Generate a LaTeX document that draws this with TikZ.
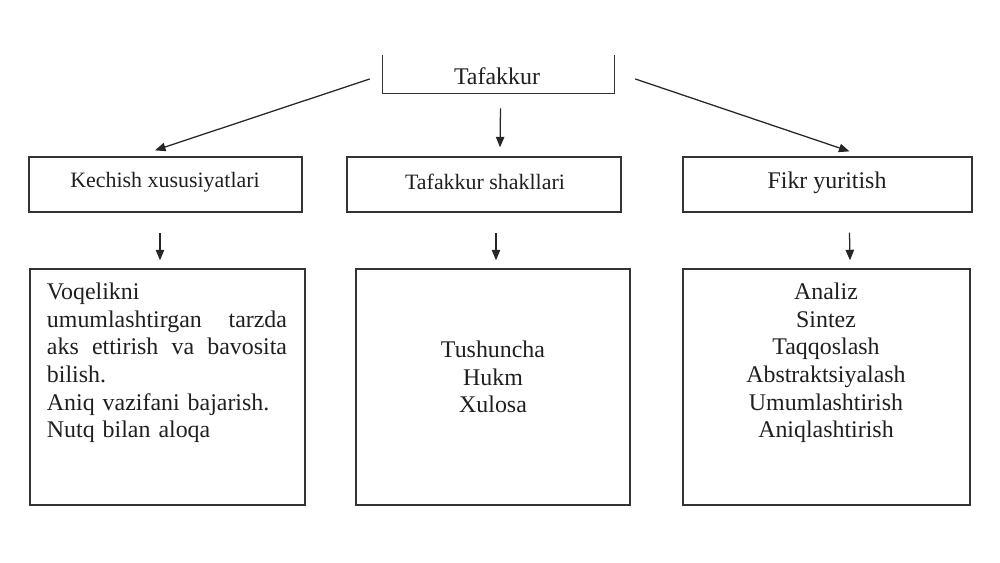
\documentclass[tikz,border=0pt]{standalone}
\usepackage{fontspec}
\setmainfont{Liberation Serif}
\usetikzlibrary{arrows.meta,calc}
\begin{document}
\begin{tikzpicture}[x=0.025cm,y=-0.025cm,
  box/.style={draw=black!80,line width=0.9pt,inner sep=0pt},
  big/.style={font=\fontsize{17}{19.6}\selectfont,text=black!88},
  mid/.style={font=\fontsize{15.6}{18}\selectfont,text=black!88},
  arr/.style={draw=black!85,line width=0.9pt,-{Triangle[length=7.5pt,width=6pt]}}]
\useasboundingbox (0,0) rectangle (1000,563);
% top box (open at top)
\node[inner sep=0pt,minimum width=5.775cm,minimum height=0.95cm] (top) at (498.5,74) {};
\draw[draw=black!80,line width=0.9pt] (top.north west) -- (top.south west) -- (top.south east) -- (top.north east);
\node[big] (toptxt) at (497,76) {Tafakkur};
% middle row
\node[box,minimum width=6.825cm,minimum height=1.375cm] (k1) at (165.5,184.5) {};
\node[box,minimum width=6.85cm,minimum height=1.375cm] (k2) at (484,184.5) {};
\node[box,minimum width=7.225cm,minimum height=1.375cm] (k3) at (827.5,184.5) {};
\node[mid] (k1t) at (165,182) {Kechish xususiyatlari};
\node[mid] (k2t) at (485,182) {Tafakkur shakllari};
\node[big] (k3t) at (827,183) {Fikr yuritish};
% bottom row
\node[box,minimum width=6.875cm,minimum height=5.9cm] (b1) at (167.5,387) {};
\node[box,minimum width=6.85cm,minimum height=5.9cm] (b2) at (493,387) {};
\node[box,minimum width=7.175cm,minimum height=5.9cm] (b3) at (826.5,387) {};
\node[big,text width=6cm,align=left,inner sep=0pt] (b1t) at (167,363) {Voqelikni\\
\leavevmode\hbox to 6cm{umumlashtirgan\hfill tarzda}\\
\leavevmode\hbox to 6cm{aks\hfill ettirish\hfill va\hfill bavosita}\\
bilish.\\
Aniq vazifani bajarish.\\
Nutq bilan aloqa};
\node[big,align=center,inner sep=0pt] (b2t) at (493,377) {Tushuncha\\Hukm\\Xulosa};
\node[big,align=center,inner sep=0pt] (b3t) at (826,363) {Analiz\\Sintez\\Taqqoslash\\Abstraktsiyalash\\Umumlashtirish\\Aniqlashtirish};
% arrows from top
\draw[arr] ($(top.west)+(-13,5)$) -- ($(k1.north)+(-10.5,-6)$);
\draw[arr] ($(top.south)+(2,15)$) -- ($(k2.north)+(16,-9)$);
\draw[arr] ($(top.east)+(21,5)$) -- ($(k3.north)+(22,-5)$);
% arrows down
\draw[arr] ($(k1.south)+(-5.5,20)$) -- ($(b1.north)+(-7.5,-8)$);
\draw[arr] ($(k2.south)+(12,20)$) -- ($(b2.north)+(3,-8)$);
\draw[arr] ($(k3.south)+(22,20)$) -- ($(b3.north)+(23.5,-8)$);
\end{tikzpicture}
\end{document}
